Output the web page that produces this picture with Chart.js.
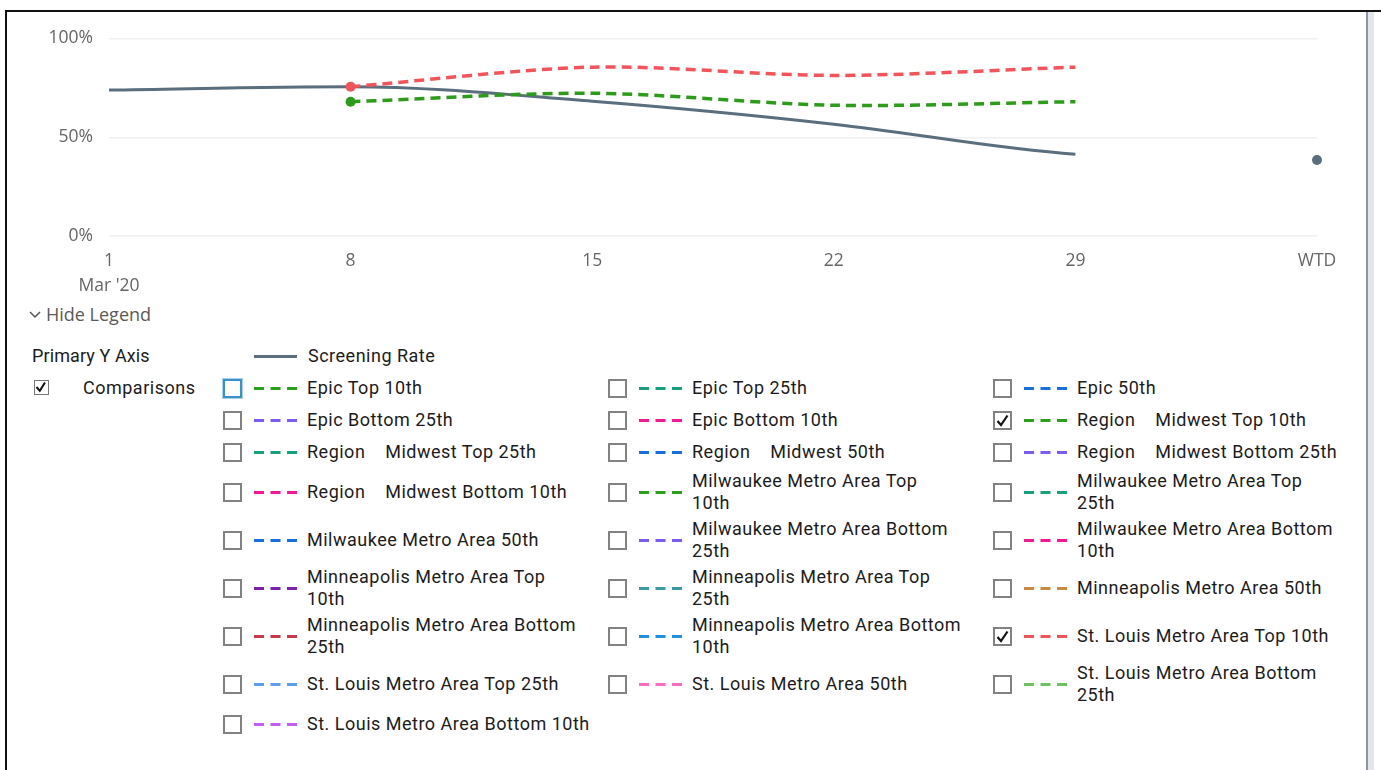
<!DOCTYPE html>
<html>
<head>
<meta charset="utf-8">
<script src="https://cdn.jsdelivr.net/npm/chart.js@4.4.1/dist/chart.umd.min.js"></script>
<style>
  html, body { margin: 0; padding: 0; background: #fff; width: 1381px; height: 770px; overflow: hidden; }
  #frame { position: absolute; left: 5px; top: 10px; width: 1376px; height: 770px;
           border-top: 2px solid #111; border-left: 2px solid #111; box-sizing: border-box; }
  #scrollbar { position: absolute; left: 1366px; top: 12px; width: 2px; height: 760px; background: #8e98a2; }
  #scrollbar2 { position: absolute; left: 1368px; top: 12px; width: 6px; height: 760px; background: #e2e6ea; }
  #chartBox { position: absolute; left: 6px; top: 12px; width: 1361px; height: 290px; }
  .axisText { font-family: "Open Sans", sans-serif; color: #666; }
  #hide { position: absolute; left: 29px; top: 302px; font-size: 18px; line-height: 24px; color: #5a5a5a; }
  #hide svg { vertical-align: middle; margin-right: 5px; margin-top: -3px; }
  .lg { font-family: Roboto, "Liberation Sans", sans-serif; font-size: 18px; letter-spacing: 0.5px; color: #1c1c1c; }
  #primary { position: absolute; left: 32px; top: 344px; line-height: 24px; letter-spacing: 0.1px; }
  #srSample { position: absolute; left: 254px; top: 355px; }
  #srText { position: absolute; left: 308px; top: 344px; line-height: 24px; }
  #compBox { position: absolute; left: 34px; top: 380px; width: 15px; height: 15px;
             border: 1.5px solid #777; box-sizing: border-box; background: #fff; }
  #compText { position: absolute; left: 83px; top: 376px; line-height: 24px; }
  #grid { position: absolute; left: 223px; top: 372px; display: grid;
          grid-template-columns: 385px 385px 385px; }
  .item { display: flex; align-items: center; min-height: 32px; padding: 2px 0; box-sizing: border-box; }
  .box { width: 19px; height: 19px; border: 2px solid #828282; box-sizing: border-box;
         background: #fff; flex: none; position: relative; }
  .box.focus { border-color: #3a90c8; box-shadow: 0 0 0 1px #a8d3ee; }
  .box svg, #compBox svg { position: absolute; left: 0; top: 0; }
  .dash { flex: none; margin-left: 12px; margin-right: 10px; }
  .txt { white-space: pre; line-height: 22px; }
</style>
</head>
<body>
<div id="frame"></div>
<div id="scrollbar"></div>
<div id="scrollbar2"></div>
<div id="chartBox"><canvas id="chart"></canvas></div>
<div id="hide" class="axisText"><svg width="12" height="8"><polyline points="1,1 6,6 11,1" fill="none" stroke="#555" stroke-width="1.5"/></svg>Hide Legend</div>
<div id="primary" class="lg">Primary Y Axis</div>
<svg id="srSample" width="43" height="3"><line x1="0" y1="1.5" x2="43" y2="1.5" stroke="#5b6e7e" stroke-width="3"/></svg>
<div id="srText" class="lg">Screening Rate</div>
<div id="compBox"><svg width="12" height="12"><polyline points="1.5,6 4.8,9.8 10,1.5" fill="none" stroke="#111" stroke-width="2"/></svg></div>
<div id="compText" class="lg">Comparisons</div>
<div id="grid" class="lg"></div>
<script>
// x categories
const weeks = ['1', '8', '15', '22', '29', 'WTD'];
const yTicks = [0, 50, 100];

// values in percent
const screeningRate = [73.9, 75.6, 68.2, 56.6, 41.4, 38.5];
const regionMidwestTop10 = [null, 68.0, 72.3, 66.2, 68.0, null];
const stLouisTop10 = [null, 75.6, 85.5, 81.3, 85.5, null];

// comparison legend entries (in order shown)
const comparisonLabels = [
  'Epic Top 10th', 'Epic Top 25th', 'Epic 50th',
  'Epic Bottom 25th', 'Epic Bottom 10th', 'Region    Midwest Top 10th',
  'Region    Midwest Top 25th', 'Region    Midwest 50th', 'Region    Midwest Bottom 25th',
  'Region    Midwest Bottom 10th', 'Milwaukee Metro Area Top\n10th', 'Milwaukee Metro Area Top\n25th',
  'Milwaukee Metro Area 50th', 'Milwaukee Metro Area Bottom\n25th', 'Milwaukee Metro Area Bottom\n10th',
  'Minneapolis Metro Area Top\n10th', 'Minneapolis Metro Area Top\n25th', 'Minneapolis Metro Area 50th',
  'Minneapolis Metro Area Bottom\n25th', 'Minneapolis Metro Area Bottom\n10th', 'St. Louis Metro Area Top 10th',
  'St. Louis Metro Area Top 25th', 'St. Louis Metro Area 50th', 'St. Louis Metro Area Bottom\n25th',
  'St. Louis Metro Area Bottom 10th'
];
const checkedComparisons = ['Region    Midwest Top 10th', 'St. Louis Metro Area Top 10th'];

// palette for legend samples
const comparisonColors = [
  '#2ca01c', '#17a07e', '#1a6fe0',
  '#7a5cf5', '#f5169a', '#2ca01c',
  '#17a07e', '#1a6fe0', '#7a5cf5',
  '#f5169a', '#2ca01c', '#17a07e',
  '#1a6fe0', '#7a5cf5', '#f5169a',
  '#7d22a8', '#3a9aa5', '#c98a3f',
  '#c93a4c', '#1f8fe0', '#f2545b',
  '#5c9eea', '#ff6ac2', '#6cc25c',
  '#c25ef5'
];
const screeningColor = '#5b6e7e';
const greenLine = '#2e9b1c';
const redLine = '#f2545b';

// build legend grid
const grid = document.getElementById('grid');
comparisonLabels.forEach((label, i) => {
  const item = document.createElement('div');
  item.className = 'item';
  const box = document.createElement('div');
  box.className = 'box' + (i === 0 ? ' focus' : '');
  if (checkedComparisons.includes(label)) {
    box.innerHTML = '<svg width="15" height="15"><polyline points="2.5,8 6,12 12.5,2.5" fill="none" stroke="#111" stroke-width="2.2"/></svg>';
  }
  item.appendChild(box);
  const ns = 'http://www.w3.org/2000/svg';
  const svg = document.createElementNS(ns, 'svg');
  svg.setAttribute('width', 43);
  svg.setAttribute('height', 3);
  svg.setAttribute('class', 'dash');
  const ln = document.createElementNS(ns, 'line');
  ln.setAttribute('x1', 0); ln.setAttribute('y1', 1.5);
  ln.setAttribute('x2', 43); ln.setAttribute('y2', 1.5);
  ln.setAttribute('stroke', comparisonColors[i]);
  ln.setAttribute('stroke-width', 3);
  ln.setAttribute('stroke-dasharray', '10 6.5');
  svg.appendChild(ln);
  item.appendChild(svg);
  const t = document.createElement('div');
  t.className = 'txt';
  t.textContent = label;
  item.appendChild(t);
  grid.appendChild(item);
});

const firstOnly = [0, 5, 0, 0, 0, 0];
const wtdOnly = [0, 0, 0, 0, 0, 5];

const ctx = document.getElementById('chart').getContext('2d');
const chart = new Chart(ctx, {
  type: 'line',
  data: {
    labels: weeks,
    datasets: [
      {
        label: 'St. Louis Metro Area Top 10th',
        data: stLouisTop10,
        borderColor: redLine,
        backgroundColor: redLine,
        borderWidth: 3.5,
        borderDash: [10, 6],
        tension: 0.3,
        pointRadius: firstOnly,
        pointBorderWidth: 0
      },
      {
        label: 'Region Midwest Top 10th',
        data: regionMidwestTop10,
        borderColor: greenLine,
        backgroundColor: greenLine,
        borderWidth: 3.5,
        borderDash: [10, 6],
        tension: 0.3,
        pointRadius: firstOnly,
        pointBorderWidth: 0
      },
      {
        label: 'Screening Rate',
        data: screeningRate,
        borderColor: screeningColor,
        backgroundColor: screeningColor,
        borderWidth: 3,
        cubicInterpolationMode: 'monotone',
        pointRadius: wtdOnly,
        pointBorderWidth: 0,
        segment: {
          borderColor: c => c.p1DataIndex === weeks.length - 1 ? 'rgba(0,0,0,0)' : screeningColor
        }
      }
    ]
  },
  options: {
    responsive: true,
    maintainAspectRatio: false,
    animation: false,
    layout: { padding: { top: 22, right: 50, left: 0, bottom: 0 } },
    plugins: { legend: { display: false }, tooltip: { enabled: false } },
    scales: {
      x: {
        type: 'category',
        offset: false,
        grid: { display: false, drawTicks: false },
        border: { display: false },
        afterFit: s => { s.height = 66; },
        ticks: {
          padding: 13,
          maxRotation: 0,
          autoSkip: false,
          color: '#666',
          font: { family: 'Open Sans', size: 17.5, lineHeight: 25 / 17.5 },
          callback: (v, i) => i === 0 ? [weeks[i], "Mar '20"] : weeks[i]
        }
      },
      y: {
        min: 0,
        max: 100,
        afterFit: s => { s.width = 103; },
        afterBuildTicks: s => { s.ticks = yTicks.map(v => ({ value: v })); },
        grid: { color: '#eef0f4', lineWidth: 1.5, drawTicks: false },
        border: { display: false },
        ticks: {
          padding: 16,
          color: '#666',
          font: { family: 'Open Sans', size: 17.5 },
          callback: v => v + '%'
        }
      }
    }
  }
});
</script>
</body>
</html>
